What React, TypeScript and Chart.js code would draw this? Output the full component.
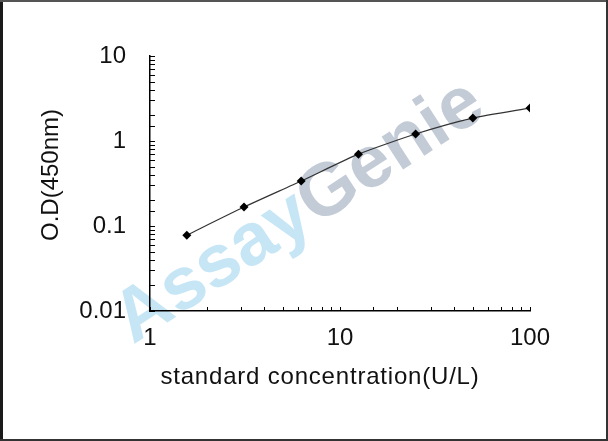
import React, { useEffect, useRef } from "react";
import { Chart, registerables } from "chart.js";

Chart.register(...registerables);

const concentrations = [1.5625, 3.125, 6.25, 12.5, 25, 50, 100];
const odValues = [0.078, 0.167, 0.338, 0.7, 1.21, 1.86, 2.44];
const xTickLabels = ["1", "10", "100"];
const yTickLabels = ["0.01", "0.1", "1", "10"];
const xTitle = "standard concentration(U/L)";
const yTitle = "O.D(450nm)";
const watermarkA = "Assay";
const watermarkB = "Genie";

const FONT = '"Liberation Sans", Arial, sans-serif';

const isPow10 = (v: number) => {
  const l = Math.log10(v);
  return Math.abs(l - Math.round(l)) < 1e-9;
};
const fmt = (v: number, labels: string[]) => {
  const s = labels.find((t) => Math.abs(Math.log10(parseFloat(t)) - Math.log10(v)) < 1e-6);
  return s ?? "";
};

const decorPlugin = {
  id: "decor",
  beforeDraw(chart: any) {
    const ctx = chart.ctx;
    ctx.save();
    ctx.fillStyle = "#fff";
    ctx.fillRect(0, 0, chart.width, chart.height);
    ctx.translate(316, 226);
    ctx.rotate((-33 * Math.PI) / 180);
    ctx.font = `bold 74px ${FONT}`;
    ctx.textBaseline = "alphabetic";
    ctx.textAlign = "right";
    ctx.fillStyle = "#c6e6f6";
    ctx.fillText(watermarkA, 0, 0);
    ctx.textAlign = "left";
    ctx.fillStyle = "#c3cbd6";
    ctx.fillText(watermarkB, 0, 0);
    ctx.restore();
  },
  afterDraw(chart: any) {
    const ctx = chart.ctx;
    const xs = chart.scales.x;
    const ys = chart.scales.y;
    const area = chart.chartArea;
    ctx.save();
    ctx.strokeStyle = "#000";
    ctx.lineWidth = 1;
    // inward ticks
    xs.ticks.forEach((t: any) => {
      const px = Math.round(xs.getPixelForValue(t.value)) + 0.5;
      ctx.beginPath();
      ctx.moveTo(px, area.bottom);
      ctx.lineTo(px, area.bottom - 4);
      ctx.stroke();
    });
    ys.ticks.forEach((t: any) => {
      const py = Math.round(ys.getPixelForValue(t.value)) + 0.5;
      ctx.beginPath();
      ctx.moveTo(area.left, py);
      ctx.lineTo(area.left + 5, py);
      ctx.stroke();
    });
    // axis titles
    ctx.fillStyle = "#111";
    ctx.font = `24px ${FONT}`;
    ctx.textAlign = "center";
    ctx.textBaseline = "middle";
    (ctx as any).letterSpacing = "0.8px";
    ctx.fillText(xTitle, 320, 377);
    (ctx as any).letterSpacing = "0px";
    ctx.save();
    ctx.translate(51, 175);
    ctx.rotate(-Math.PI / 2);
    ctx.fillText(yTitle, 0, 0);
    ctx.restore();
    // frame
    ctx.fillStyle = "#1a1a1a";
    ctx.fillRect(0, 0, 3, chart.height);
    ctx.fillStyle = "#555";
    ctx.fillRect(0, 0, chart.width, 2);
    ctx.fillStyle = "#333";
    ctx.fillRect(chart.width - 2, 0, 2, chart.height);
    ctx.fillRect(0, chart.height - 2, chart.width, 2);
    ctx.restore();
  },
};

export default function App() {
  const ref = useRef<HTMLCanvasElement | null>(null);
  useEffect(() => {
    if (!ref.current) return;
    const chart = new Chart(ref.current, {
      type: "line",
      data: {
        datasets: [
          {
            data: concentrations.map((c, i) => ({ x: c, y: odValues[i] })),
            borderColor: "#333",
            borderWidth: 1.2,
            pointStyle: "rectRot",
            pointRadius: 4.5,
            pointBackgroundColor: "#000",
            pointBorderColor: "#000",
            pointBorderWidth: 0,
            tension: 0.2,
            fill: false,
          },
        ],
      },
      options: {
        responsive: false,
        animation: false,
        events: [],
        layout: { padding: { left: 0, top: 56, right: 78, bottom: 0 } },
        plugins: { legend: { display: false }, tooltip: { enabled: false } },
        scales: {
          x: {
            type: "logarithmic",
            min: 1,
            max: 100,
            grid: { display: false, drawTicks: false },
            border: { display: true, color: "#000", width: 1.5 },
            ticks: {
              autoSkip: false,
              maxRotation: 0,
              padding: 13,
              color: "#111",
              font: { family: FONT, size: 24 },
              callback: (v: any) => (isPow10(Number(v)) ? fmt(Number(v), xTickLabels) : ""),
            },
            afterFit: (s: any) => {
              s.height = 130;
            },
          },
          y: {
            type: "logarithmic",
            min: 0.01,
            max: 10,
            grid: { display: false, drawTicks: false },
            border: { display: true, color: "#000", width: 1.5 },
            ticks: {
              autoSkip: false,
              padding: 24,
              color: "#111",
              font: { family: FONT, size: 24 },
              callback: (v: any) => (isPow10(Number(v)) ? fmt(Number(v), yTickLabels) : ""),
            },
            afterFit: (s: any) => {
              s.width = 150;
            },
          },
        },
      },
      plugins: [decorPlugin],
    });
    return () => chart.destroy();
  }, []);
  return (
    <div style={{ position: "fixed", left: 0, top: 0, width: 608, height: 441, background: "#fff" }}>
      <canvas ref={ref} width={608} height={441} style={{ width: 608, height: 441, display: "block" }} />
    </div>
  );
}
